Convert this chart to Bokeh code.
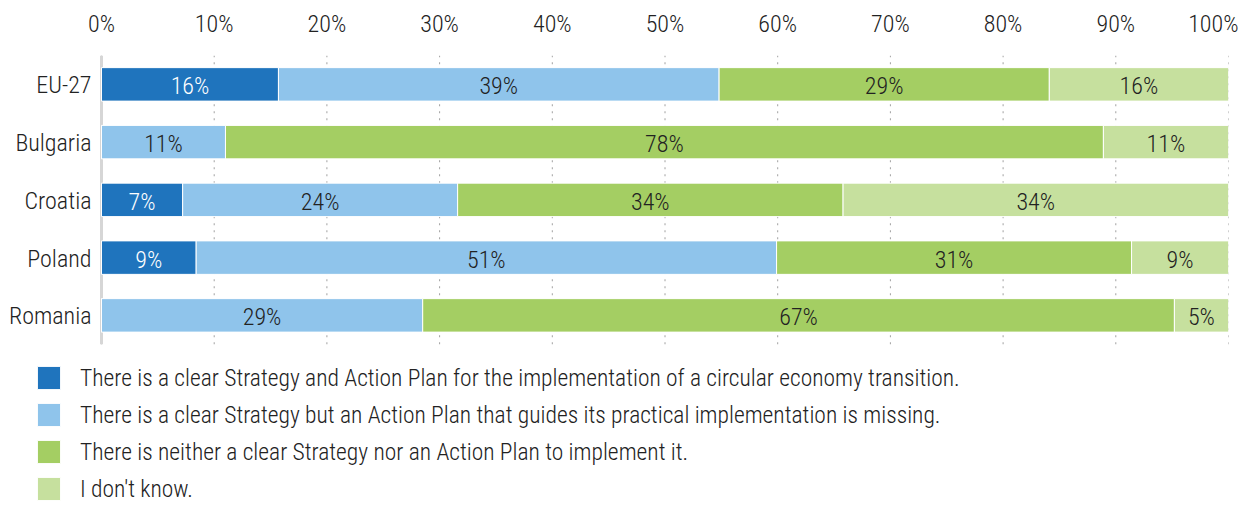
from bokeh.plotting import figure
from bokeh.models import (FixedTicker, PrintfTickFormatter, Legend, LegendItem,
                          ColumnDataSource, Range1d)
from bokeh.core.properties import value
from bokeh.embed import file_html
from bokeh.resources import INLINE

# ---------------- data ----------------
countries = ["EU-27", "Bulgaria", "Croatia", "Poland", "Romania"]

clear_strategy_and_plan = [15.7, 0.0, 7.2, 8.4, 0.0]
clear_strategy_no_plan = [39.1, 11.0, 24.4, 51.5, 28.5]
neither = [29.3, 77.9, 34.2, 31.5, 66.7]
dont_know = [15.9, 11.1, 34.2, 8.6, 4.8]

labels_strategy_and_plan = ["16%", "", "7%", "9%", ""]
labels_strategy_no_plan = ["39%", "11%", "24%", "51%", "29%"]
labels_neither = ["29%", "78%", "34%", "31%", "67%"]
labels_dont_know = ["16%", "11%", "34%", "9%", "5%"]

series_names = [
    "There is a clear Strategy and Action Plan for the implementation of a circular economy transition.",
    "There is a clear Strategy but an Action Plan that guides its practical implementation is missing.",
    "There is neither a clear Strategy nor an Action Plan to implement it.",
    "I don't know.",
]
series_values = [clear_strategy_and_plan, clear_strategy_no_plan, neither, dont_know]
series_labels = [labels_strategy_and_plan, labels_strategy_no_plan, labels_neither, labels_dont_know]
series_colors = ["#1f74bd", "#8fc4eb", "#a4ce63", "#c6e09e"]
label_colors = ["white", "#222222", "#222222", "#222222"]

x_ticks = list(range(0, 101, 10))

FONT = "'Roboto Condensed Light', 'Roboto Condensed', sans-serif"
FS = "24px"
LEGEND_FS = "23.5px"

# ---------------- layout constants (pixels) ----------------
W, H = 1238, 503
BORDER_L, BORDER_R, BORDER_T = 2, 10, 55
LABEL_GUTTER = 99           # px between frame left edge and the 0% position
ROW_PX = 57.75              # px per bar row
frame_w = W - BORDER_L - BORDER_R
frame_h = H - BORDER_T
plot_w = frame_w - LABEL_GUTTER
n = len(countries)

# row positions: first country at the top
row_y = [n - 1 - i for i in range(n)]
y_hi = n - 0.5
y_lo_rows = -0.5
x_start = -LABEL_GUTTER / plot_w * 100
y_start = y_hi - frame_h / ROW_PX

p = figure(width=W, height=H, output_backend="svg", toolbar_location=None,
           x_range=Range1d(x_start, 100), y_range=Range1d(y_start, y_hi),
           x_axis_location="above", y_axis_location=None,
           min_border_left=BORDER_L, min_border_right=BORDER_R,
           min_border_top=BORDER_T, min_border_bottom=0)
p.outline_line_color = None
p.background_fill_color = "white"
p.xgrid.grid_line_color = None
p.ygrid.grid_line_color = None

xa = p.xaxis[0]
xa.ticker = FixedTicker(ticks=x_ticks)
xa.formatter = PrintfTickFormatter(format="%d%%")
xa.axis_line_color = None
xa.major_tick_line_color = None
xa.minor_tick_line_color = None
xa.major_tick_out = 0
xa.major_tick_in = 0
xa.major_label_standoff = 18
xa.major_label_text_font = FONT
xa.major_label_text_font_size = FS
xa.major_label_text_color = "#222222"

# dotted vertical grid lines spanning the bar rows only
p.segment(x0=x_ticks, x1=x_ticks, y0=[y_lo_rows] * len(x_ticks), y1=[y_hi] * len(x_ticks),
          line_color="#a0a0a0", line_dash="2 5", line_width=1)
# category axis line at 0%
p.segment(x0=[0], x1=[0], y0=[y_lo_rows], y1=[y_hi], line_color="#d6d6d6", line_width=3)

# category labels
p.text(x=[0] * n, y=row_y, text=countries, x_offset=-10, y_offset=1,
       text_align="right", text_baseline="middle", text_color="#222222",
       text_font=value(FONT), text_font_size=FS)

# ---------------- bars ----------------
items = []
left = [0.0] * n
for name, vals, labs, col, lcol in zip(series_names, series_values, series_labels,
                                        series_colors, label_colors):
    right = [l + v for l, v in zip(left, vals)]
    src = ColumnDataSource(dict(
        y=row_y, left=left, right=right,
        mid=[(l + r) / 2 for l, r in zip(left, right)], lab=labs))
    r = p.hbar(y="y", left="left", right="right", height=0.58, source=src,
               fill_color=col, line_color="white", line_width=1)
    p.text(x="mid", y="y", text="lab", source=src, text_align="center",
           text_baseline="middle", y_offset=2, text_color=lcol,
           text_font=value(FONT), text_font_size=FS)
    items.append(LegendItem(label=name, renderers=[r]))
    left = right

legend = Legend(items=items, location=(32, 0), orientation="vertical",
                glyph_width=29, glyph_height=29, label_standoff=17, spacing=8,
                label_height=28, padding=0, margin=0,
                border_line_color=None, background_fill_alpha=0,
                label_text_font=FONT, label_text_font_size=LEGEND_FS,
                label_text_color="#222222")
p.add_layout(legend)

open("out.html", "w").write(file_html(p, INLINE))
